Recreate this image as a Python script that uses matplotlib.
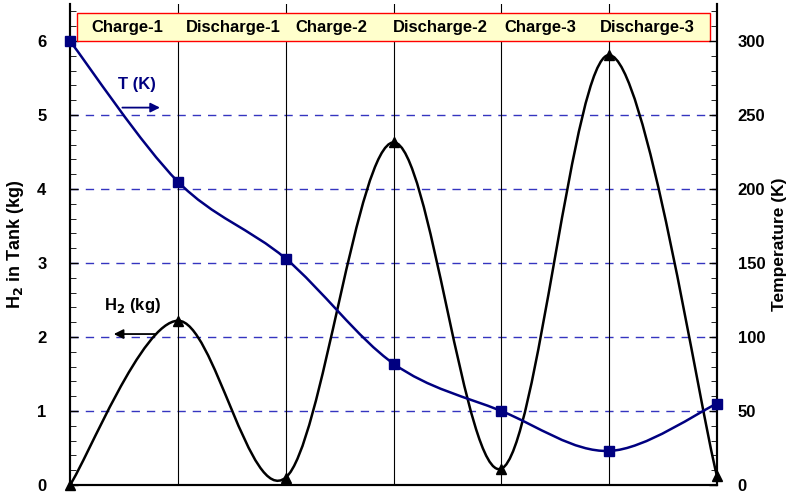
import matplotlib as mpl
mpl.use('Agg')
import matplotlib.pyplot as plt
from matplotlib.path import Path
from matplotlib.patches import PathPatch, Rectangle
import numpy as np

# data
steps = [0, 1, 2, 3, 4, 5, 6]
h2_kg = [0.0, 2.22, 0.10, 4.63, 0.22, 5.81, 0.12]
temp_k = [300, 205, 153, 82, 50, 23, 55]
phases = ['Charge-1', 'Discharge-1', 'Charge-2', 'Discharge-2', 'Charge-3', 'Discharge-3']
phase_x = [0.53, 1.51, 2.42, 3.43, 4.36, 5.35]

navy = '#000080'


def smooth_path(x, y):
	# excel-like smoothed line: catmull-rom as cubic bezier segments
	x = np.asarray(x, float)
	y = np.asarray(y, float)
	p = np.column_stack([x, y])
	n = len(p)
	verts = [p[0]]
	codes = [Path.MOVETO]
	for i in range(n - 1):
		pm = p[max(i - 1, 0)]
		pp = p[min(i + 2, n - 1)]
		c1 = p[i] + (p[i + 1] - pm) / 6.0
		c2 = p[i + 1] - (pp - p[i]) / 6.0
		verts += [c1, c2, p[i + 1]]
		codes += [Path.CURVE4] * 3
	return Path(verts, codes)


plt.rcParams['font.family'] = ['Liberation Sans', 'DejaVu Sans']
plt.rcParams['font.weight'] = 'bold'

fig = plt.figure(figsize=(7.89, 4.95), dpi=100)
ax = fig.add_axes([70 / 789, 10 / 495, 647 / 789, 481 / 495])
ax2 = ax.twinx()

ax.set_xlim(0, 6)
ax.set_ylim(0, 6.5)
ax2.set_ylim(0, 325)

# grid
for yv in [1, 2, 3, 4, 5]:
	ax.axhline(yv, color='#3535c0', lw=1.0, dashes=(6, 5), zorder=1)
for xv in steps[1:-1]:
	ax.axvline(xv, color='black', lw=0.8, zorder=1)

# H2 curve
ax.add_patch(PathPatch(smooth_path(steps, h2_kg), fill=False, edgecolor='black', lw=1.8, zorder=3))
ax.plot(steps, h2_kg, ls='none', marker='^', color='black', ms=7, zorder=4, clip_on=False)

# temperature curve
ax2.add_patch(PathPatch(smooth_path(steps, temp_k), fill=False, edgecolor=navy, lw=1.8, zorder=3))
ax2.plot(steps, temp_k, ls='none', marker='s', color=navy, ms=6.5, zorder=4, clip_on=False)

# phase box
ax.add_patch(Rectangle((0.065, 6.0), 5.87, 0.38, facecolor='#ffffcc', edgecolor='red', lw=1.0, zorder=5))
for px, lab in zip(phase_x, phases):
	ax.text(px, 6.185, lab, ha='center', va='center', fontsize=12, fontweight='bold', zorder=6)

# annotations
ax.text(0.62, 5.35, 'T (K)', color=navy, fontsize=12, fontweight='bold', ha='center')
ax.annotate('', xy=(0.86, 5.1), xytext=(0.46, 5.1),
	arrowprops=dict(arrowstyle='-|>', color=navy, lw=1.3, mutation_scale=14))
ax.text(0.58, 2.36, 'H$_2$ (kg)', fontsize=12, fontweight='bold', ha='center')
ax.annotate('', xy=(0.38, 2.04), xytext=(0.82, 2.04),
	arrowprops=dict(arrowstyle='-|>', color='black', lw=1.3, mutation_scale=14))

# axes styling
ax.set_xticks([])
ax.set_yticks([0, 1, 2, 3, 4, 5, 6])
ax.set_yticks(np.arange(0, 6.5, 0.2), minor=True)
ax.tick_params(axis='y', direction='in', length=6, width=1, labelsize=12, pad=17)
ax.tick_params(axis='y', which='minor', direction='in', length=4)
ax2.set_yticks([0, 50, 100, 150, 200, 250, 300])
ax2.set_yticks(np.arange(0, 325, 10), minor=True)
ax2.tick_params(axis='y', direction='in', length=6, width=1, labelsize=12, pad=15)
ax2.tick_params(axis='y', which='minor', direction='in', length=4)
for a in (ax, ax2):
	a.spines['top'].set_visible(False)
	for s in ('left', 'right', 'bottom'):
		a.spines[s].set_linewidth(1.5)
for lab in ax.get_yticklabels() + ax2.get_yticklabels():
	lab.set_fontweight('bold')

ax.set_ylabel('H$_2$ in Tank (kg)', fontsize=13, fontweight='bold', rotation=90, ha='center', va='center')
ax.yaxis.set_label_coords(-0.085, 0.5)
ax2.set_ylabel('Temperature (K)', fontsize=12.5, fontweight='bold', rotation=90, ha='center', va='center')
ax2.yaxis.set_label_coords(1.096, 0.5)

fig.savefig('out.png', dpi=100)
